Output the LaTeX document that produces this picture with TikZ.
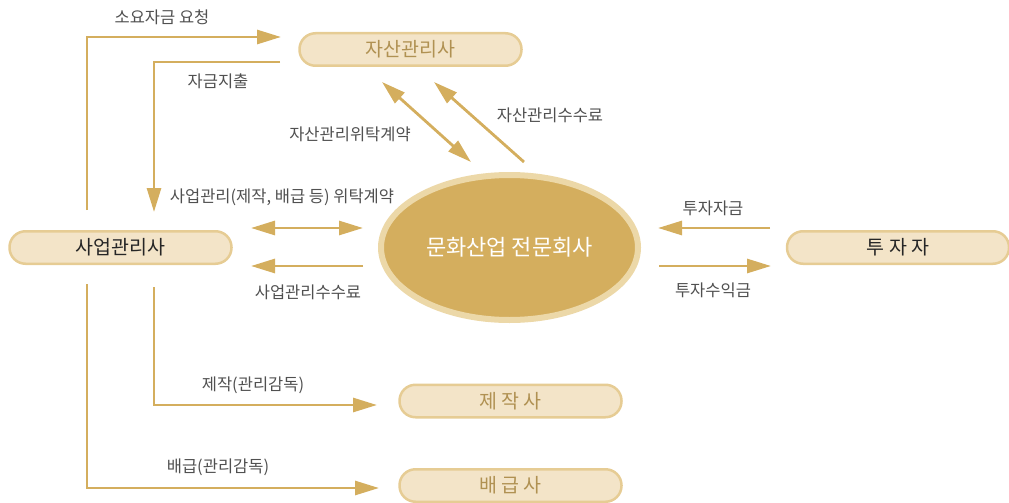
\documentclass[tikz,border=0pt]{standalone}
\usepackage{fontspec}
\setmainfont{Noto Sans CJK KR}
\usetikzlibrary{arrows.meta,shapes.geometric}
\definecolor{gold}{HTML}{D4AE5E}
\definecolor{boxfill}{HTML}{F3E4C8}
\definecolor{boxline}{HTML}{E6CC94}
\definecolor{goldtext}{HTML}{B09152}
\definecolor{labeltext}{HTML}{505050}
\definecolor{ellline}{HTML}{ECD8A8}
\tikzset{
  party/.style={draw=boxline, line width=2.5pt, fill=boxfill, rounded corners=16pt,
    minimum width=222pt, minimum height=32.5pt, inner sep=0pt, font=\fontsize{19.5}{22}\selectfont},
  flow/.style={draw=gold, line width=2.8pt, -{Triangle[length=24pt,width=14pt]}},
  both/.style={draw=gold, line width=2.8pt, {Triangle[length=24pt,width=14pt]}-{Triangle[length=24pt,width=14pt]}},
  lbl/.style={text=labeltext, font=\fontsize{16.5}{19}\selectfont, inner sep=0pt},
}
\begin{document}
\begin{tikzpicture}[x=1pt,y=-1pt]
\useasboundingbox (0,0) rectangle (1009,503);
% nodes
\node[party, text=goldtext] (asset) at (410.5,49.5) {자산관리사};
\node[party, text=black!85] (biz) at (120.5,247.5) {사업관리사};
\node[party, text=black!85] (inv) at (898,247.5) {투 자 자};
\node[party, text=goldtext] (prod) at (510.5,401) {제 작 사};
\node[party, text=goldtext] (dist) at (510.5,485.5) {배 급 사};
\node[ellipse, draw=ellline, line width=6pt, fill=gold, minimum width=257pt, minimum height=145pt,
  text=white, font=\fontsize{22}{26}\selectfont] (core) at (509.5,247.5) {문화산업 전문회사};
% connector end points
\coordinate (reqS) at (87,210);   \coordinate (reqE) at (281,37);
\coordinate (payS) at (280,62);   \coordinate (payE) at (154,212);
\coordinate (prodS) at (154,287); \coordinate (prodE) at (377,405);
\coordinate (distS) at (87,284);  \coordinate (distE) at (379,488);
\coordinate (bcL) at (251,228);   \coordinate (bcR) at (363,228);
\coordinate (bfR) at (363,266);   \coordinate (bfL) at (251,266);
\coordinate (acA) at (382,82);    \coordinate (acB) at (471,162);
\coordinate (afS) at (524,162);   \coordinate (afE) at (434,82);
\coordinate (ifS) at (770,228);   \coordinate (ifE) at (658,228);
\coordinate (irS) at (659,266);   \coordinate (irE) at (771,266);
% connectors
\draw[flow] (reqS) |- (reqE);
\draw[flow] (payS) -| (payE);
\draw[flow] (prodS) |- (prodE);
\draw[flow] (distS) |- (distE);
\draw[both] (bcL) -- (bcR);
\draw[flow] (bfR) -- (bfL);
\draw[both] (acA) -- (acB);
\draw[flow] (afS) -- (afE);
\draw[flow] (ifS) -- (ifE);
\draw[flow] (irS) -- (irE);
% labels
\node[lbl] (l1) at (162,17) {소요자금 요청};
\node[lbl] (l2) at (218,81) {자금지출};
\node[lbl] (l3) at (350,134) {자산관리위탁계약};
\node[lbl] (l4) at (550,115) {자산관리수수료};
\node[lbl] (l5) at (282,197) {사업관리(제작, 배급 등) 위탁계약};
\node[lbl] (l6) at (308,292) {사업관리수수료};
\node[lbl] (l7) at (713,208) {투자자금};
\node[lbl] (l8) at (713,290) {투자수익금};
\node[lbl] (l9) at (253,385) {제작(관리감독)};
\node[lbl] (l10) at (218,467) {배급(관리감독)};
\end{tikzpicture}
\end{document}
